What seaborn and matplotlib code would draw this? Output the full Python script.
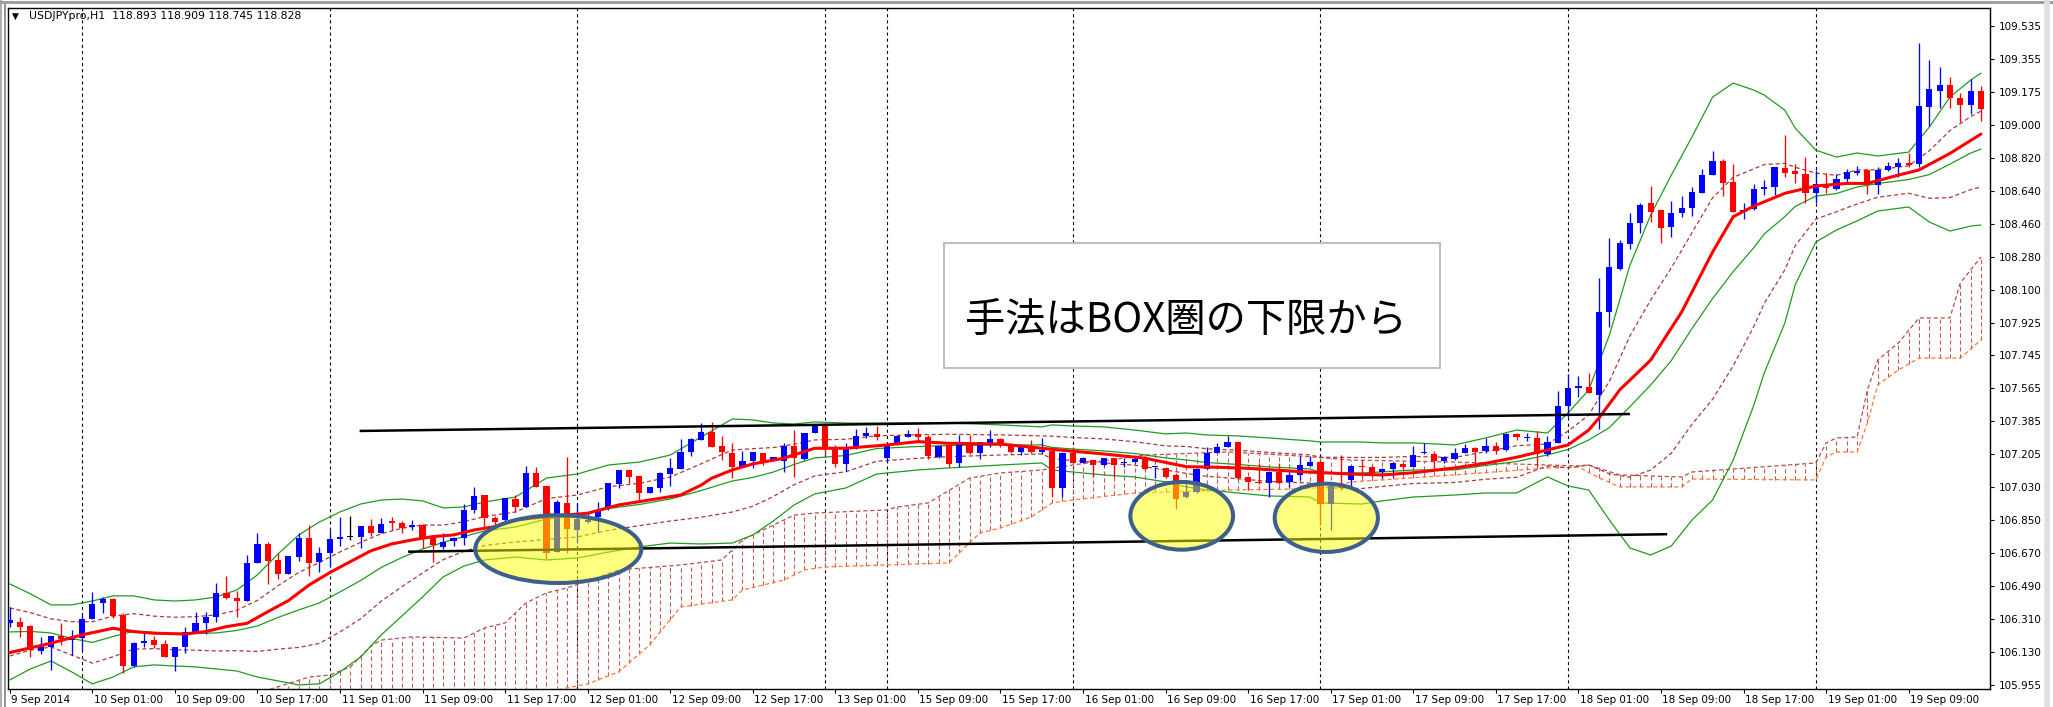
import numpy as np
import matplotlib
matplotlib.use("Agg")
import matplotlib.pyplot as plt
import seaborn as sns
from matplotlib.patches import Ellipse, Rectangle
from matplotlib.transforms import ScaledTranslation
from matplotlib.lines import Line2D

sns.set_style("white")
plt.rcParams['font.family'] = ['DejaVu Sans']
plt.rcParams['lines.scale_dashes'] = False

# ---------------- data (hourly candles, index 0 = 9 Sep 2014 17:00) ----------------
opens = [106.292,106.299,106.275,106.141,106.163,106.221,106.199,106.209,106.312,106.399,
106.420,106.335,106.058,106.182,106.199,106.176,106.106,106.160,106.245,106.294,
106.323,106.453,106.426,106.413,106.616,106.719,106.634,106.558,106.652,106.752,
106.625,106.670,106.747,106.757,106.757,106.821,106.782,106.846,106.833,106.812,
106.824,106.752,106.703,106.737,106.752,106.906,106.986,106.861,106.851,106.964,
106.924,107.108,107.036,106.679,106.945,106.797,106.840,106.869,106.920,107.047,
107.123,107.090,107.000,107.024,107.101,107.127,107.222,107.286,107.331,107.255,
107.217,107.138,107.174,107.217,107.174,107.174,107.255,107.181,107.326,107.367,
107.235,107.156,107.241,107.308,107.318,107.187,107.264,107.301,107.318,107.304,
107.195,107.259,107.159,107.264,107.214,107.271,107.290,107.259,107.222,107.253,
107.222,107.228,107.024,107.217,107.163,107.177,107.150,107.187,107.159,107.168,
107.181,107.138,107.132,107.096,106.978,107.005,107.127,107.217,107.246,107.277,
107.087,107.060,107.051,107.114,107.060,107.096,107.145,107.168,106.938,107.042,
107.069,107.145,107.141,107.112,107.127,107.156,107.138,107.215,107.210,107.174,
107.181,107.217,107.241,107.225,107.253,107.232,107.317,107.295,107.295,107.210,
107.270,107.473,107.567,107.575,107.530,107.983,108.213,108.351,108.463,108.572,
108.535,108.441,108.517,108.545,108.629,108.725,108.801,108.689,108.526,108.539,
108.648,108.659,108.762,108.749,108.731,108.629,108.677,108.648,108.702,108.738,
108.753,108.671,108.753,108.770,108.792,108.785,109.093,109.183,109.214,109.142,
109.106,109.182]
highs = [106.379,106.326,106.281,106.217,106.221,106.294,106.254,106.335,106.459,106.435,
106.426,106.348,106.189,106.239,106.221,106.199,106.160,106.269,106.353,106.353,
106.508,106.547,106.467,106.661,106.779,106.733,106.670,106.656,106.779,106.824,
106.703,106.797,106.866,106.873,106.821,106.855,106.861,106.866,106.848,106.851,
106.830,106.764,106.779,106.761,106.938,107.032,106.986,106.873,106.969,106.987,
107.145,107.141,107.036,106.960,107.192,106.942,106.896,106.951,107.051,107.123,
107.123,107.090,107.029,107.114,107.187,107.290,107.295,107.377,107.385,107.308,
107.268,107.228,107.219,107.217,107.192,107.268,107.340,107.326,107.367,107.367,
107.259,107.268,107.344,107.355,107.362,107.259,107.308,107.340,107.349,107.313,
107.253,107.268,107.313,107.313,107.277,107.340,107.295,107.268,107.246,107.286,
107.295,107.232,107.222,107.250,107.195,107.177,107.187,107.187,107.187,107.187,
107.187,107.141,107.132,107.105,107.051,107.127,107.250,107.268,107.308,107.277,
107.087,107.163,107.114,107.163,107.114,107.199,107.199,107.177,107.036,107.205,
107.150,107.177,107.145,107.134,107.168,107.159,107.253,107.271,107.228,107.199,
107.241,107.264,107.250,107.295,107.277,107.326,107.326,107.326,107.337,107.308,
107.554,107.644,107.634,107.651,108.164,108.382,108.372,108.517,108.575,108.666,
108.535,108.586,108.611,108.659,108.756,108.857,108.811,108.785,108.575,108.677,
108.698,108.770,108.943,108.785,108.825,108.753,108.738,108.731,108.756,108.774,
108.756,108.767,108.798,108.816,108.846,109.444,109.350,109.314,109.259,109.172,
109.245,109.209]
lows = [106.270,106.214,106.107,106.124,106.036,106.172,106.118,106.145,106.312,106.348,
106.317,106.022,106.055,106.163,106.154,106.109,106.033,106.131,106.245,106.232,
106.299,106.420,106.326,106.413,106.616,106.504,106.529,106.558,106.630,106.547,
106.570,106.594,106.710,106.743,106.698,106.764,106.779,106.797,106.779,106.797,
106.698,106.625,106.692,106.710,106.716,106.888,106.815,106.824,106.842,106.896,
106.920,107.032,106.638,106.679,106.674,106.725,106.833,106.788,106.906,107.024,
107.051,106.960,107.000,107.005,107.036,107.127,107.199,107.286,107.246,107.177,
107.078,107.138,107.132,107.150,107.174,107.114,107.087,107.177,107.322,107.205,
107.141,107.119,107.235,107.295,107.286,107.168,107.259,107.301,107.277,107.181,
107.187,107.141,107.141,107.210,107.181,107.250,107.246,107.217,107.205,107.217,
107.210,106.978,106.978,107.159,107.159,107.087,107.145,107.087,107.141,107.163,
107.123,107.078,107.078,106.909,106.969,106.996,107.127,107.214,107.246,107.072,
107.014,107.047,106.978,107.047,107.032,107.069,107.145,106.824,106.797,107.014,
107.032,107.087,107.087,107.078,107.087,107.127,107.138,107.210,107.127,107.159,
107.177,107.214,107.138,107.217,107.210,107.228,107.286,107.282,107.145,107.199,
107.270,107.411,107.521,107.540,107.344,107.901,108.209,108.322,108.412,108.472,
108.358,108.387,108.496,108.503,108.626,108.725,108.611,108.526,108.485,108.535,
108.617,108.617,108.713,108.684,108.575,108.575,108.626,108.644,108.677,108.725,
108.622,108.622,108.749,108.716,108.767,108.770,108.992,109.088,109.088,109.015,
109.057,109.020]
closes = [106.308,106.272,106.145,106.167,106.221,106.203,106.205,106.312,106.395,106.420,
106.330,106.058,106.185,106.196,106.172,106.109,106.160,106.245,106.294,106.326,
106.453,106.426,106.413,106.616,106.719,106.630,106.558,106.656,106.752,106.616,
106.670,106.747,106.757,106.757,106.821,106.782,106.828,106.833,106.806,106.824,
106.752,106.716,106.733,106.752,106.906,106.982,106.861,106.842,106.969,106.924,
107.108,107.032,106.674,106.951,106.801,106.855,106.851,106.906,107.051,107.123,
107.087,107.000,107.029,107.108,107.135,107.222,107.290,107.331,107.250,107.222,
107.138,107.174,107.219,107.159,107.192,107.255,107.187,107.326,107.367,107.235,
107.156,107.241,107.308,107.322,107.301,107.259,107.308,107.317,107.304,107.199,
107.253,107.156,107.271,107.217,107.277,107.290,107.259,107.222,107.246,107.222,
107.232,107.024,107.214,107.163,107.187,107.150,107.187,107.150,107.163,107.181,
107.127,107.141,107.087,106.964,107.005,107.127,107.217,107.250,107.277,107.078,
107.060,107.051,107.114,107.054,107.096,107.150,107.168,106.938,107.036,107.025,
107.145,107.138,107.105,107.130,107.159,107.138,107.205,107.221,107.174,107.192,
107.217,107.241,107.222,107.253,107.228,107.317,107.301,107.301,107.210,107.277,
107.473,107.567,107.577,107.543,107.983,108.224,108.358,108.466,108.562,108.526,
108.436,108.521,108.545,108.635,108.725,108.801,108.684,108.526,108.535,108.648,
108.659,108.767,108.738,108.731,108.629,108.677,108.653,108.702,108.743,108.749,
108.671,108.753,108.774,108.792,108.780,109.100,109.191,109.214,109.142,109.106,
109.183,109.082]

# red moving average (read at sample bars)
ma_idx = [0,4,7,10,12,14,17,19,21,23,25,27,29,31,33,35,37,39,41,43,45,47,49,52,56,59,62,65,67,68,
          70,72,75,78,81,85,88,91,96,101,106,110,114,117,120,125,130,133,136,140,143,146,149,151,
          153,154,156,159,162,165,167,169,172,175,178,180,183,185,188,191]
ma_val = [106.131,106.182,106.227,106.263,106.245,106.236,106.232,106.245,106.272,106.290,
          106.353,106.413,106.498,106.565,106.625,106.684,106.721,106.743,106.761,106.770,
          106.797,106.815,106.851,106.869,106.888,106.933,106.960,106.987,107.041,107.078,
          107.123,107.156,107.187,107.241,107.241,107.259,107.277,107.268,107.264,107.235,
          107.210,107.187,107.141,107.138,107.132,107.114,107.101,107.096,107.108,107.134,
          107.159,107.192,107.232,107.259,107.340,107.406,107.558,107.720,107.981,108.307,
          108.499,108.557,108.626,108.666,108.680,108.680,108.725,108.753,108.843,108.948]

# Bollinger +-2 sigma bands (green), read at sample bars
bb_idx = [0,2,4,6,8,10,12,14,16,18,20,22,24,26,28,30,32,34,36,38,40,42,44,46,49,52,55,58,61,64,67,70,
          72,74,76,78,81,84,88,91,96,100,101,103,106,109,112,114,116,119,122,126,127,131,133,136,
          140,143,146,149,151,153,155,157,159,161,163,165,167,169,170,172,173,175,177,179,181,184,
          186,188,190,191]
bb_upper = [106.504,106.450,106.390,106.390,106.411,106.439,106.439,106.417,106.411,106.417,
            106.433,106.471,106.553,106.667,106.770,106.840,106.895,106.938,106.960,106.965,
            106.955,106.917,106.922,106.949,
            106.976,107.079,107.101,107.150,107.166,107.204,107.302,107.400,
            107.395,107.378,107.373,107.384,107.378,107.378,107.378,107.378,
            107.368,107.357,107.368,107.362,107.357,107.340,107.319,107.324,
            107.313,107.308,107.297,107.281,107.275,107.275,107.270,107.270,
            107.259,107.297,107.340,107.324,107.433,107.558,107.856,108.237,
            108.508,108.725,108.932,109.149,109.225,109.187,109.160,109.078,
            108.981,108.861,108.823,108.845,108.829,108.850,108.986,109.149,
            109.241,109.279]
bb_lower = [105.982,106.042,106.085,106.026,105.961,105.998,106.053,106.064,106.058,106.053,
            106.042,106.031,105.998,105.977,105.955,105.961,106.026,106.107,106.227,106.330,
            106.433,106.542,106.601,106.634,
            106.650,106.634,106.645,106.677,106.705,106.726,106.721,106.726,
            106.770,106.846,106.933,106.993,107.025,107.101,107.123,107.134,
            107.150,107.161,107.123,107.112,107.096,107.085,107.058,107.031,
            107.014,106.998,106.982,106.976,106.944,106.938,106.955,106.976,
            106.987,106.998,106.998,107.085,107.036,107.014,106.851,106.699,
            106.661,106.710,106.851,106.960,107.177,107.476,107.650,107.921,
            108.128,108.361,108.427,108.476,108.530,108.552,108.470,108.421,
            108.448,108.454]

# Ichimoku cloud edges
span_a_idx = [22,25,29,31,33,35,36,39,44,46,48,50,52,54,59,65,69,71,76,78,85,86,89,93,96,100,103,
              110,118,125,130,140,149,152,153,156,162,163,175,176,177,179,180,181,183,185,188,189,191]
span_a = [105.874,105.928,105.998,106.009,106.053,106.167,106.199,106.216,106.210,106.265,
          106.292,106.400,106.455,106.482,106.580,106.607,106.634,106.743,106.878,106.889,
          106.906,106.922,106.944,107.079,107.107,107.123,107.150,107.204,107.221,107.199,
          107.177,107.166,107.150,107.145,107.150,107.096,107.085,107.112,107.161,107.270,
          107.297,107.302,107.558,107.720,107.813,107.949,107.949,108.139,108.280]
span_b_idx = [25,50,53,56,59,62,65,70,71,75,77,79,91,93,94,96,99,101,103,109,112,118,125,128,130,
              140,149,152,154,156,162,163,175,176,177,179,180,181,183,185,189,191]
span_b = [105.846,105.884,105.928,105.961,106.026,106.172,106.379,106.417,106.471,106.525,
          106.580,106.596,106.618,106.726,106.781,106.808,106.868,106.944,106.960,106.998,
          107.003,107.014,107.020,107.031,107.058,107.096,107.134,107.139,107.080,107.031,
          107.031,107.074,107.069,107.194,107.221,107.221,107.378,107.585,107.666,107.731,
          107.731,107.829]

# hand-drawn BOX lines
box_top_x, box_top_y = [33.9, 157.0], [107.335, 107.427]
box_bot_x, box_bot_y = [38.6, 160.6], [106.679, 106.774]
# highlight ellipses: (center bar, center price, width bars, height price)
ellipses = [(53.15, 106.693, 16.1, 0.368), (113.56, 106.874, 9.95, 0.368), (127.57, 106.863, 10.0, 0.371)]

x_tick_idx = list(range(0, 185, 8))
x_tick_labels = ['9 Sep 2014', '10 Sep 01:00', '10 Sep 09:00', '10 Sep 17:00', '11 Sep 01:00',
                 '11 Sep 09:00', '11 Sep 17:00', '12 Sep 01:00', '12 Sep 09:00', '12 Sep 17:00',
                 '13 Sep 01:00', '15 Sep 09:00', '15 Sep 17:00', '16 Sep 01:00', '16 Sep 09:00',
                 '16 Sep 17:00', '17 Sep 01:00', '17 Sep 09:00', '17 Sep 17:00', '18 Sep 01:00',
                 '18 Sep 09:00', '18 Sep 17:00', '19 Sep 01:00', '19 Sep 09:00']
day_sep = [7, 31, 55, 79, 85, 103, 127, 151, 175]
y_tick_labels = ['105.955', '106.130', '106.310', '106.490', '106.670', '106.850', '107.030',
                 '107.205', '107.385', '107.565', '107.745', '107.925', '108.100', '108.280',
                 '108.460', '108.640', '108.820', '109.000', '109.175', '109.355', '109.535']

# ---------------- figure ----------------
W, H = 2053, 707
fig = plt.figure(figsize=(W / 100, H / 100), dpi=100, facecolor='white')
ax = fig.add_axes([8 / W, (H - 689) / H, (1990 - 8) / W, (689 - 8) / H])
ax.set_facecolor('white')
ax.set_xlim(-0.17, 191.88)
ax.set_ylim(105.933, 109.633)

dash = (0, (3, 2))
# day separators
for d in day_sep:
    ax.axvline(d, color='black', lw=0.8, ls=(0, (2.2, 2.2)), zorder=2)

# Ichimoku cloud
hx = np.arange(25, 192)
ax.vlines(hx, np.interp(hx, span_b_idx, span_b), np.interp(hx, span_a_idx, span_a),
          colors='#BD5A52', lw=0.8, linestyles=dash, zorder=3)
ax.plot(span_a_idx, span_a, color='#B4504A', lw=0.9, ls=dash, zorder=3)
ax.plot(span_b_idx, span_b, color='#FF7A3C', lw=0.9, ls=dash, zorder=3)

# Bollinger bands
up2 = np.array(bb_upper)
lo2 = np.array(bb_lower)
mid = (up2 + lo2) / 2          # middle band lies halfway between the read +-2 sigma bands
up1 = (up2 + mid) / 2          # +1 sigma (brown dashed)
lo1 = (lo2 + mid) / 2          # -1 sigma (brown dashed)
for yy in (up2, mid, lo2):
    sns.lineplot(x=bb_idx, y=yy, ax=ax, color='#229A22', lw=0.9, zorder=4)
for yy in (up1, lo1):
    ax.plot(bb_idx, yy, color='#A83C3C', lw=0.9, ls=dash, zorder=4)

# candles
o = np.array(opens); hi = np.array(highs); lo = np.array(lows); c = np.array(closes)
idx = np.arange(len(o))
cols = np.where(c > o, '#0000FF', np.where(c < o, '#FF0000', '#000000'))
ax.vlines(idx, lo, hi, colors=cols, lw=0.95, zorder=5)
ax.bar(idx, np.maximum(np.abs(c - o), 0.005), bottom=np.minimum(o, c), width=0.6,
       color=cols, lw=0, zorder=6)

# moving average
sns.lineplot(x=ma_idx, y=ma_val, ax=ax, color='#FF0000', lw=2.2, zorder=7)

# box lines
ax.plot(box_top_x, box_top_y, color='black', lw=1.8, zorder=8, solid_capstyle='butt')
ax.plot(box_bot_x, box_bot_y, color='black', lw=1.8, zorder=8, solid_capstyle='butt')

# ellipses
for (ex, ey, ew, eh) in ellipses:
    ax.add_patch(Ellipse((ex, ey), ew, eh, facecolor=(1, 1, 0, 0.5), edgecolor='none', zorder=9))
    ax.add_patch(Ellipse((ex, ey), ew, eh, fill=False, edgecolor='#3D5F8C', lw=2.9, zorder=10))

# annotation box
ax.add_patch(Rectangle((90.52, 107.677), 48.06, 0.679, facecolor='white', edgecolor='#BFBFBF',
                       lw=1.5, zorder=11))
ax.text(92.56, 107.938, '手法はBOX圏の下限から', fontsize=29, ha='left', va='center',
        family=['Noto Sans CJK JP', 'DejaVu Sans'], color='black', zorder=12)

# axes styling
for s in ax.spines.values():
    s.set_color('black')
    s.set_linewidth(1.0)
ax.yaxis.tick_right()
ax.set_yticks(np.linspace(105.955, 109.535, 21))
ax.set_yticklabels(y_tick_labels)
ax.tick_params(axis='y', direction='out', length=3, width=0.8, pad=3, labelsize=7.5,
               colors='black', right=True, left=False)
ax.set_xticks(x_tick_idx)
ax.set_xticklabels(x_tick_labels)
ax.tick_params(axis='x', direction='out', length=3, width=0.8, pad=1.5, labelsize=7.5,
               colors='black', bottom=True)
for lab in ax.get_xticklabels():
    lab.set_ha('left')
    lab.set_transform(lab.get_transform() + ScaledTranslation(1.5 / 100, 0, fig.dpi_scale_trans))
ax.set_xlabel('')
ax.set_ylabel('')
ax.grid(False)

# header
fig.text(12 / W, 1 - 16 / H, '▼', fontsize=6.5, va='center', ha='left', color='black')
fig.text(29 / W, 1 - 16 / H, 'USDJPYpro,H1  118.893 118.909 118.745 118.828', fontsize=7.8,
         va='center', ha='left', color='black')

# outer window frame
fig.add_artist(Line2D([1 / W, 1 / W], [0, 1], transform=fig.transFigure, color='#B0B0B0', lw=1.5))
fig.add_artist(Line2D([5 / W, 5 / W], [0, 1 - 3 / H], transform=fig.transFigure, color='#808080', lw=1.2))
fig.add_artist(Line2D([0, 1], [1 - 1.5 / H, 1 - 1.5 / H], transform=fig.transFigure, color='#A0A0A0', lw=2.2))
fig.add_artist(Line2D([2047 / W, 2047 / W], [0, 1], transform=fig.transFigure, color='#E0E0E0', lw=4))

fig.savefig('out.png', dpi=100, facecolor='white')
